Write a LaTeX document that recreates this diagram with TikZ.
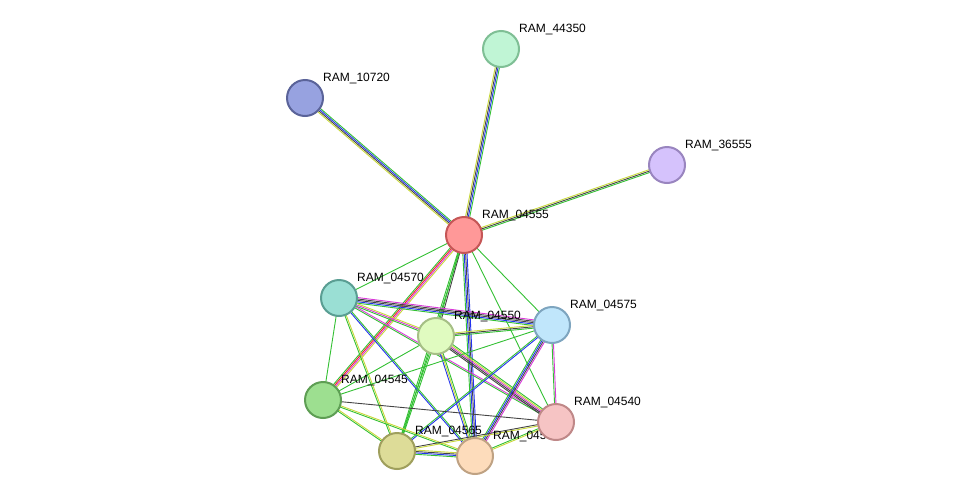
\documentclass[tikz,border=0pt]{standalone}
\usepackage{fontspec}
\setmainfont{Liberation Sans}
\usetikzlibrary{calc}
\definecolor{eg}{HTML}{33C033}
\definecolor{eb}{HTML}{2233EE}
\definecolor{ek}{HTML}{444444}
\definecolor{ey}{HTML}{C8D83A}
\definecolor{er}{HTML}{EE2222}
\definecolor{em}{HTML}{D838D8}
\newcommand\edg[3]{%
  \foreach \c [count=\i] in {#3} {%
    \pgfmathsetmacro\off{(\i-(\n+1)/2)*1.4}%
    \draw[\c, line width=0.9pt] ($(#1)!\off pt!90:(#2)$) -- ($(#2)!\off pt!-90:(#1)$);
  }}
\newcommand\E[3]{\def\n{#3}\edg{#1}{#2}{}}
\tikzset{
  nd/.style={circle, minimum size=36pt, inner sep=0pt, line width=2pt},
  lb/.style={font=\fontsize{12}{12}\selectfont, anchor=base west, inner sep=0pt}
}
\newcommand\ED[3]{\def\n{#3}\edg{#1}{#2}}
\begin{document}
\begin{tikzpicture}[x=1pt,y=-1pt]
\useasboundingbox (0,0) rectangle (976,501);
\coordinate (a44350) at (501,49);
\coordinate (a10720) at (305,98);
\coordinate (a36555) at (667,165);
\coordinate (a04555) at (464,235);
\coordinate (a04570) at (339,298);
\coordinate (a04550) at (436,336);
\coordinate (a04575) at (552,325);
\coordinate (a04545) at (323,400);
\coordinate (a04540) at (556,422);
\coordinate (a04565) at (397,451);
\coordinate (a04560) at (475,456);
% edges
\def\n{4}\edg{a04555}{a44350}{eg,eb,ek,ey}
\def\n{4}\edg{a04555}{a10720}{eg,eb,ek,ey}
\def\n{3}\edg{a04555}{a36555}{eg,ek,ey}
\def\n{4}\edg{a04555}{a04545}{eg,er,em,ey}
\def\n{1}\edg{a04555}{a04570}{eg}
\def\n{2}\edg{a04555}{a04550}{eg,ek}
\def\n{1}\edg{a04555}{a04575}{eg}
\def\n{1}\edg{a04555}{a04540}{eg}
\def\n{4}\edg{a04555}{a04560}{eg,eb,ek,eb}
\def\n{2}\edg{a04555}{a04565}{eg,eg}
\def\n{5}\edg{a04570}{a04575}{eg,eb,ek,ek,em}
\def\n{3}\edg{a04570}{a04550}{eg,em,ey}
\def\n{1}\edg{a04570}{a04545}{eg}
\def\n{2}\edg{a04570}{a04565}{eg,ey}
\def\n{2}\edg{a04570}{a04560}{eb,eg}
\def\n{2}\edg{a04570}{a04540}{eg,em}
\def\n{3}\edg{a04550}{a04575}{eg,ek,ey}
\def\n{5}\edg{a04550}{a04540}{ek,ek,em,ey,eg}
\def\n{3}\edg{a04550}{a04560}{eb,ey,eg}
\def\n{2}\edg{a04550}{a04565}{eg,eg}
\def\n{1}\edg{a04550}{a04545}{eg}
\def\n{2}\edg{a04575}{a04540}{eg,em}
\def\n{4}\edg{a04575}{a04560}{eg,eb,ek,em}
\def\n{2}\edg{a04575}{a04565}{eg,eb}
\def\n{1}\edg{a04575}{a04545}{eg}
\def\n{1}\edg{a04545}{a04540}{ek}
\def\n{2}\edg{a04545}{a04565}{eg,ey}
\def\n{2}\edg{a04545}{a04560}{eg,ey}
\def\n{4}\edg{a04565}{a04560}{eg,eb,ek,ey}
\def\n{2}\edg{a04540}{a04560}{eg,ey}
\def\n{2}\edg{a04540}{a04565}{ek,ey}
% labels
\foreach \p in {44350,10720,36555,04555,04570,04550,04575,04545,04540,04565,04560}
  \node[lb] (l\p) at ($(a\p)+(18,-17)$) {RAM\_\p};
% nodes
\node[nd, fill={rgb,255:red,192;green,245;blue,213}, draw={rgb,255:red,127;green,191;blue,149}] (n44350) at (a44350) {};
\node[nd, fill={rgb,255:red,151;green,162;blue,224}, draw={rgb,255:red,90;green,99;blue,153}] (n10720) at (a10720) {};
\node[nd, fill={rgb,255:red,213;green,194;blue,252}, draw={rgb,255:red,153;green,133;blue,191}] (n36555) at (a36555) {};
\node[nd, fill={rgb,255:red,255;green,152;blue,152}, draw={rgb,255:red,197;green,86;blue,86}] (n04555) at (a04555) {};
\node[nd, fill={rgb,255:red,154;green,223;blue,212}, draw={rgb,255:red,90;green,158;blue,147}] (n04570) at (a04570) {};
\node[nd, fill={rgb,255:red,224;green,251;blue,192}, draw={rgb,255:red,166;green,191;blue,134}] (n04550) at (a04550) {};
\node[nd, fill={rgb,255:red,192;green,230;blue,251}, draw={rgb,255:red,126;green,165;blue,191}] (n04575) at (a04575) {};
\node[nd, fill={rgb,255:red,157;green,223;blue,144}, draw={rgb,255:red,94;green,158;blue,84}] (n04545) at (a04545) {};
\node[nd, fill={rgb,255:red,246;green,196;blue,196}, draw={rgb,255:red,191;green,136;blue,136}] (n04540) at (a04540) {};
\node[nd, fill={rgb,255:red,221;green,220;blue,152}, draw={rgb,255:red,159;green,159;blue,93}] (n04565) at (a04565) {};
\node[nd, fill={rgb,255:red,253;green,220;blue,187}, draw={rgb,255:red,191;green,162;blue,131}] (n04560) at (a04560) {};
\end{tikzpicture}
\end{document}
